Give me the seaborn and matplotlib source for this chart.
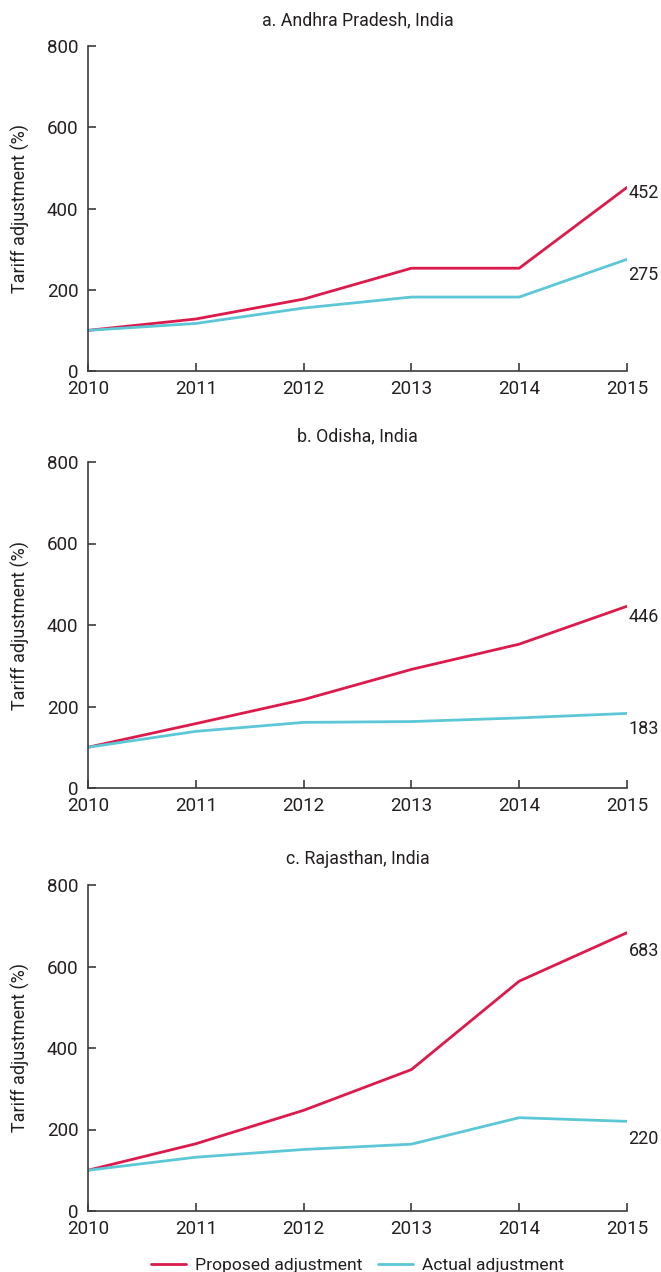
import numpy as np
import pandas as pd
import matplotlib
matplotlib.use("Agg")
import matplotlib.pyplot as plt
import seaborn as sns

years = [2010, 2011, 2012, 2013, 2014, 2015]
panel_titles = ["a. Andhra Pradesh, India", "b. Odisha, India", "c. Rajasthan, India"]
series_names = ["Proposed adjustment", "Actual adjustment"]

andhra_proposed = [100, 128, 177, 253, 253, 452]
andhra_actual = [100, 117, 155, 182, 182, 275]
odisha_proposed = [100, 158, 217, 291, 353, 446]
odisha_actual = [100, 139, 161, 163, 172, 183]
rajasthan_proposed = [100, 165, 247, 347, 564, 683]
rajasthan_actual = [100, 132, 151, 164, 229, 220]

y_ticks = [0, 200, 400, 600, 800]
y_label = "Tariff adjustment (%)"

panels = [
    (andhra_proposed, andhra_actual),
    (odisha_proposed, odisha_actual),
    (rajasthan_proposed, rajasthan_actual),
]

sns.set_style("white")
plt.rcParams["font.family"] = ["Roboto", "DejaVu Sans"]
text_color = "#231F20"
spine_color = "#3C3C3C"
palette = {"Proposed adjustment": "#DC1A4B", "Actual adjustment": "#5CC7D6"}

fig = plt.figure(figsize=(6.61, 12.72), dpi=100)
left, width = 88 / 661, (627 - 88) / 661
tops_px = [46, 462, 885]
bottoms_px = [371, 788, 1211]
# label offsets (points) for end annotations: (proposed, actual)
label_dy = [(-4, -11), (-8, -11), (-13, -13)]

axes = []
for i, (prop, act) in enumerate(panels):
    b = 1 - bottoms_px[i] / 1272
    h = (bottoms_px[i] - tops_px[i]) / 1272
    ax = fig.add_axes([left, b, width, h])
    axes.append(ax)
    df = pd.DataFrame({
        "year": years * 2,
        "value": list(prop) + list(act),
        "series": [series_names[0]] * len(years) + [series_names[1]] * len(years),
    })
    sns.lineplot(data=df, x="year", y="value", hue="series", palette=palette,
                 hue_order=series_names, linewidth=2.0, ax=ax, legend=False)
    ax.set_xlim(years[0], years[-1])
    ax.set_ylim(y_ticks[0], y_ticks[-1])
    ax.set_xticks(years)
    ax.set_xticklabels([str(y) for y in years])
    ax.set_yticks(y_ticks)
    ax.set_xlabel("")
    ax.set_ylabel(y_label, fontsize=13, color=text_color, labelpad=12)
    ax.set_title(panel_titles[i], fontsize=12.8, color=text_color, pad=15)
    for s in ["top", "right"]:
        ax.spines[s].set_visible(False)
    for s in ["left", "bottom"]:
        ax.spines[s].set_color(spine_color)
        ax.spines[s].set_linewidth(1.2)
    ax.tick_params(axis="both", direction="in", length=5.5, width=1.2,
                   color=spine_color, labelcolor=text_color, labelsize=13.5,
                   bottom=True, left=True)
    ax.tick_params(axis="x", pad=6.5)
    ax.tick_params(axis="y", pad=7)
    ax.grid(False)
    for vals, dy in zip((prop, act), label_dy[i]):
        ax.annotate(str(vals[-1]), xy=(years[-1], vals[-1]), xytext=(1, dy),
                    textcoords="offset points", ha="left", va="center",
                    fontsize=13, color=text_color, annotation_clip=False)

handles = [plt.Line2D([], [], color=palette[n], linewidth=2.0) for n in series_names]
fig.legend(handles, series_names, loc="center", bbox_to_anchor=(0.541, 1 - 1265 / 1272),
           ncol=2, frameon=False, fontsize=12.6, handlelength=2.0, columnspacing=0.9,
           handletextpad=0.5, labelcolor=text_color)

fig.savefig("out.png", dpi=100)
